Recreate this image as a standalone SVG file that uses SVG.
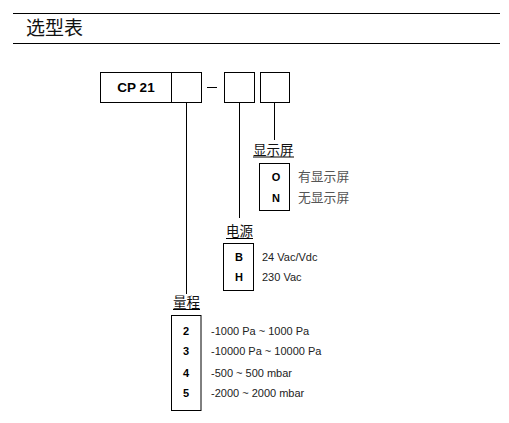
<svg xmlns="http://www.w3.org/2000/svg" width="509" height="423" viewBox="0 0 509 423">
<style>
.ln{stroke:#000;stroke-width:1;fill:none}
.box{stroke:#000;stroke-width:1;fill:#fff}
.t{font-family:"Liberation Sans",Arial,"Noto Sans CJK SC",sans-serif;font-size:11px;fill:#222}
.g{font-family:"Noto Sans CJK SC","Liberation Sans",sans-serif;font-size:12.8px;fill:#555}
.b{font-family:"Liberation Sans",Arial,sans-serif;font-size:11px;font-weight:bold;fill:#000;text-anchor:middle}
.h{font-family:"Noto Sans CJK SC","Liberation Sans",sans-serif;font-size:13.5px;fill:#111}
</style>
<rect width="509" height="423" fill="#fff"/>
<g id="header">
<line class="ln" x1="13" y1="13.5" x2="500" y2="13.5"/>
<line class="ln" x1="13" y1="43.5" x2="500" y2="43.5"/>
<text x="26" y="35" style="font-family:'Noto Sans CJK SC',sans-serif;font-size:19px;fill:#111">选型表</text>
</g>
<g id="connectors">
<line class="ln" x1="207" y1="87.5" x2="217" y2="87.5"/>
<line class="ln" x1="186.5" y1="102" x2="186.5" y2="294"/>
<line class="ln" x1="239.5" y1="102" x2="239.5" y2="218"/>
<line class="ln" x1="274.5" y1="102" x2="274.5" y2="140"/>
</g>
<g id="code">
<rect class="box" x="100.5" y="72.5" width="71" height="30"/>
<text x="136" y="92" style="font-family:'Liberation Sans',Arial,sans-serif;font-size:13.5px;font-weight:bold;text-anchor:middle">CP 21</text>
<rect class="box" x="171.5" y="72.5" width="30" height="30"/>
<rect class="box" x="224.5" y="72.5" width="30" height="30"/>
<rect class="box" x="260.5" y="72.5" width="29" height="30"/>
</g>
<g id="display">
<text class="h" x="253" y="155">显示屏</text>
<line class="ln" x1="253" y1="157" x2="294" y2="157"/>
<rect class="box" x="259.5" y="163.5" width="30" height="47"/>
<text class="b" x="276" y="181">O</text>
<text class="b" x="276" y="202">N</text>
<text class="g" x="298" y="181">有显示屏</text>
<text class="g" x="298" y="202">无显示屏</text>
</g>
<g id="power">
<text class="h" x="226" y="236">电源</text>
<line class="ln" x1="226" y1="238.5" x2="253" y2="238.5"/>
<rect class="box" x="223.5" y="243.5" width="30" height="47"/>
<text class="b" x="239" y="261">B</text>
<text class="b" x="239" y="281">H</text>
<text class="t" x="262" y="261">24 Vac/Vdc</text>
<text class="t" x="262" y="281">230 Vac</text>
</g>
<g id="range">
<text class="h" x="173" y="307">量程</text>
<line class="ln" x1="173" y1="309.5" x2="200" y2="309.5"/>
<rect class="box" x="171.5" y="315.5" width="29.5" height="95"/>
<text class="b" x="186" y="335">2</text>
<text class="b" x="186" y="355">3</text>
<text class="b" x="186" y="377">4</text>
<text class="b" x="186" y="397">5</text>
<text class="t" x="211" y="335">-1000 Pa ~ 1000 Pa</text>
<text class="t" x="211" y="355">-10000 Pa ~ 10000 Pa</text>
<text class="t" x="211" y="377">-500 ~ 500 mbar</text>
<text class="t" x="211" y="397">-2000 ~ 2000 mbar</text>
</g>
</svg>
